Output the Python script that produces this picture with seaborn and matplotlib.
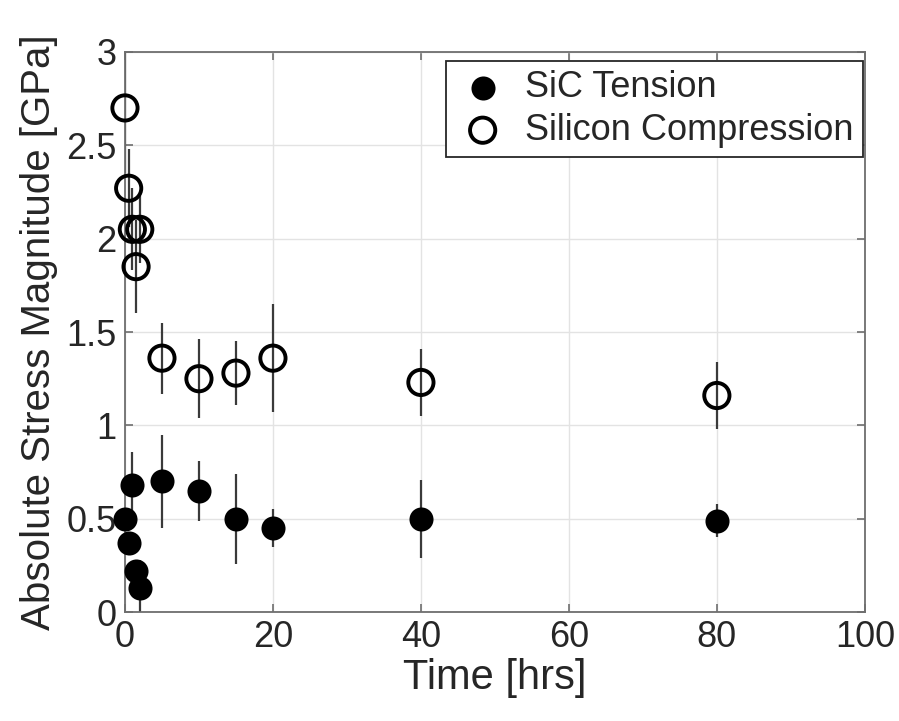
import matplotlib
matplotlib.use('Agg')
import matplotlib.pyplot as plt
import seaborn as sns
import pandas as pd

# Data
times = [0, 0.5, 1, 1.5, 2, 5, 10, 15, 20, 40, 80]
sic_tension = [0.50, 0.37, 0.68, 0.22, 0.13, 0.70, 0.65, 0.50, 0.45, 0.50, 0.49]
sic_err = [0.05, 0.05, 0.18, 0.06, 0.15, 0.25, 0.16, 0.24, 0.10, 0.21, 0.09]
si_compression = [2.70, 2.27, 2.05, 1.85, 2.05, 1.36, 1.25, 1.28, 1.36, 1.23, 1.16]
si_err = [0.35, 0.21, 0.22, 0.25, 0.18, 0.19, 0.21, 0.17, 0.29, 0.18, 0.18]

x_ticks = [0, 20, 40, 60, 80, 100]
y_ticks = [0, 0.5, 1, 1.5, 2, 2.5, 3]
y_tick_labels = ['0', '0.5', '1', '1.5', '2', '2.5', '3']

sns.set_theme(style='whitegrid')
plt.rcParams['font.family'] = ['Liberation Sans', 'DejaVu Sans']

df = pd.DataFrame({'Time': times, 'SiC': sic_tension, 'SiC_err': sic_err,
                   'Si': si_compression, 'Si_err': si_err})

fig = plt.figure(figsize=(8.99, 7.21), dpi=100, facecolor='white')
ax = fig.add_axes([0.139, 0.151, 0.823, 0.777])
ax.set_facecolor('white')

# Error bars first, markers on top
bar_color = '#3a3a3a'
ax.errorbar(df['Time'], df['SiC'], yerr=df['SiC_err'], fmt='none',
            ecolor=bar_color, elinewidth=1.6, capsize=0, zorder=2)
ax.errorbar(df['Time'], df['Si'], yerr=df['Si_err'], fmt='none',
            ecolor=bar_color, elinewidth=1.6, capsize=0, zorder=2)

sns.scatterplot(data=df, x='Time', y='SiC', ax=ax, s=300, color='black',
                edgecolor='black', linewidth=0, label='SiC Tension', zorder=3)
sns.scatterplot(data=df, x='Time', y='Si', ax=ax, s=330, marker='o',
                facecolor='none', edgecolor='black', linewidth=2.8,
                label='Silicon Compression', zorder=3)

# markers at x=0 hang over the axis edge, as in the original
for coll in ax.collections:
    if coll.get_label() in ('SiC Tension', 'Silicon Compression'):
        coll.set_clip_on(False)

ax.set_xlim(0, 100)
ax.set_ylim(0, 3)
ax.set_xticks(x_ticks)
ax.set_yticks(y_ticks)
ax.set_yticklabels(y_tick_labels)

ax.grid(True, color='#e3e3e3', linewidth=1.0)
for side in ['left', 'right', 'top', 'bottom']:
    ax.spines[side].set_visible(True)
    ax.spines[side].set_color('#6e6e6e')
    ax.spines[side].set_linewidth(1.3)

ax.tick_params(axis='both', direction='in', length=6, width=1.2,
               color='#6e6e6e', labelsize=26, labelcolor='#262626',
               top=True, right=True, bottom=True, left=True, pad=6)

ax.set_xlabel('Time [hrs]', fontsize=30, color='#262626', labelpad=2)
ax.set_ylabel('Absolute Stress Magnitude [GPa]', fontsize=29,
              color='#262626', labelpad=6)

leg = ax.legend(loc='upper right', bbox_to_anchor=(0.997, 0.983),
                fontsize=26, frameon=True, fancybox=False, framealpha=1,
                edgecolor='#262626', borderpad=0.25, handletextpad=0.4,
                labelspacing=0.2, borderaxespad=0, handlelength=1.55)
leg.get_frame().set_linewidth(1.3)

fig.savefig('out.png', dpi=100, facecolor='white')
plt.close(fig)
